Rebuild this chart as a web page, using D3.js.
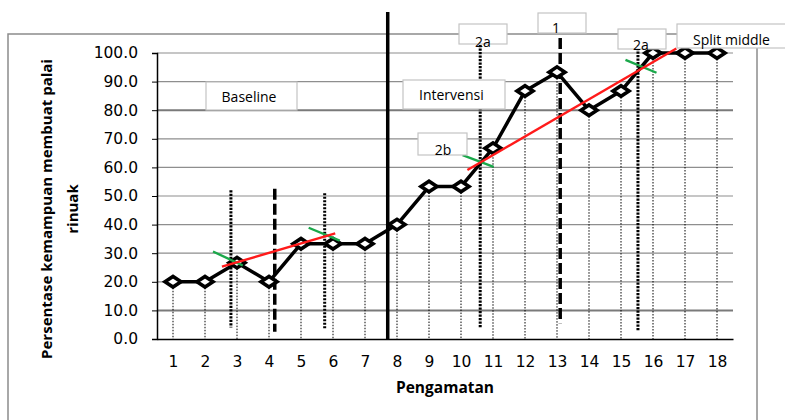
<!DOCTYPE html>
<html><head><meta charset="utf-8">
<script src="https://cdn.jsdelivr.net/npm/d3@7"></script>
<style>body{margin:0;background:#fff}svg{display:block}</style>
</head><body>
<script>
const categories = [1,2,3,4,5,6,7,8,9,10,11,12,13,14,15,16,17,18];
const values = [20,20,26.7,20,33.3,33.3,33.3,40,53.3,53.3,66.7,86.7,93.3,80,86.7,100,100,100];
const yTicks = [0,10,20,30,40,50,60,70,80,90,100];
const phaseLine = 7.71;
const dashedLines = [4.18, 13.1];
const dottedLines = [2.81, 5.74, 10.6, 15.53];
const trendBaseline = [[2.53,25.3],[6.07,36.9]];
const trendIntervensi = [[10.2,59.1],[16.73,101.6]];
const greenMarks = [
  [[2.25,30.6],[3.18,25.7]],
  [[5.24,38.9],[6.21,34.4]],
  [[10.05,64.3],[11.02,60.2]],
  [[15.14,97.6],[16.11,93.1]]
];

const W=785,H=420;
const svg=d3.select("body").append("svg").attr("width",W).attr("height",H);
const font="'Open Sans', sans-serif";
const tickFont="'DejaVu Sans', sans-serif";
const x=d3.scaleLinear().domain([0.5,18.5]).range([157,733]);
const y=d3.scaleLinear().domain([0,100]).range([339,53]);

// outer frame
svg.append("rect").attr("x",8).attr("y",34).attr("width",749).attr("height",400)
  .attr("fill","none").attr("stroke","#8c8c8c").attr("stroke-width",1.5);

// gridlines
svg.append("g").selectAll("line").data(yTicks.filter(d=>d>0)).join("line")
  .attr("x1",x(0.5)).attr("x2",x(18.5)).attr("y1",d=>y(d)).attr("y2",d=>y(d))
  .attr("stroke",d=>(d===80||d===10)?"#7a7a7a":"#8e8e8e")
  .attr("stroke-width",d=>(d===80||d===10)?2:1.2);

// axes
const yAxis=d3.axisLeft(y).tickValues(yTicks).tickFormat(d3.format(".1f")).tickSize(5).tickPadding(14);
const gy=svg.append("g").attr("transform",`translate(${x(0.5)},0)`).call(yAxis);
gy.select(".domain").attr("stroke","#000").attr("stroke-width",1.5);
gy.selectAll(".tick line").attr("stroke","#000");
gy.selectAll("text").attr("font-family",tickFont).attr("font-size",15.5).attr("fill","#000");

const xAxis=d3.axisBottom(x).tickValues(categories).tickFormat(d3.format("d")).tickSize(0).tickPadding(17);
const gx=svg.append("g").attr("transform",`translate(0,${y(0)})`).call(xAxis);
gx.select(".domain").attr("stroke","#000").attr("stroke-width",1.5);
gx.selectAll("text").attr("font-family",tickFont).attr("font-size",15.5).attr("fill","#000");

// drop lines
svg.append("g").selectAll("line").data(categories).join("line")
  .attr("x1",(d)=>x(d)).attr("x2",d=>x(d))
  .attr("y1",(d,i)=>y(values[i])).attr("y2",y(0))
  .attr("stroke","#000").attr("stroke-width",1).attr("stroke-dasharray","1.5,1.5");

// thick dotted lines
const dottedSpans=[[52,4],[51,3.5],[102,4],[101,3]];
svg.append("g").selectAll("line").data(dottedLines).join("line")
  .attr("x1",d=>x(d)).attr("x2",d=>x(d))
  .attr("y1",(d,i)=>i<2?y(dottedSpans[i][0]):[45,48][i-2])
  .attr("y2",(d,i)=>y(dottedSpans[i][1]))
  .attr("stroke","#000").attr("stroke-width",3).attr("stroke-dasharray","2.2,1.3");

// dashed lines
svg.append("g").selectAll("line").data(dashedLines).join("line")
  .attr("x1",d=>x(d)).attr("x2",d=>x(d))
  .attr("y1",(d,i)=>i===0?y(52.5):38).attr("y2",(d,i)=>i===0?y(2.5):y(5.5))
  .attr("stroke","#000").attr("stroke-width",3.5).attr("stroke-dasharray","11,4");

// phase change line
svg.append("line").attr("x1",x(phaseLine)).attr("x2",x(phaseLine))
  .attr("y1",12).attr("y2",y(0)).attr("stroke","#000").attr("stroke-width",3.5);

// data line
const line=d3.line().x((d,i)=>x(categories[i])).y(d=>y(d));
svg.append("path").datum(values).attr("d",line).attr("fill","none")
  .attr("stroke","#000").attr("stroke-width",3.5).attr("stroke-linejoin","round");

// markers (wide diamonds)
svg.append("g").selectAll("path").data(values).join("path")
  .attr("d","M-8,0L0,-5.3L8,0L0,5.3Z")
  .attr("transform",(d,i)=>`translate(${x(categories[i])},${y(d)})`)
  .attr("fill","#fff").attr("stroke","#000").attr("stroke-width",3.6).attr("stroke-linejoin","miter");

// green marks
svg.append("g").selectAll("line").data(greenMarks).join("line")
  .attr("x1",d=>x(d[0][0])).attr("y1",d=>y(d[0][1]))
  .attr("x2",d=>x(d[1][0])).attr("y2",d=>y(d[1][1]))
  .attr("stroke","#1aa84a").attr("stroke-width",2.4);

// red trend lines
svg.append("g").selectAll("line").data([trendBaseline,trendIntervensi]).join("line")
  .attr("x1",d=>x(d[0][0])).attr("y1",d=>y(d[0][1]))
  .attr("x2",d=>x(d[1][0])).attr("y2",d=>y(d[1][1]))
  .attr("stroke","#ff1a1a").attr("stroke-width",2.4);

// label boxes
const boxes=[
  {t:"Baseline",x0:206,y0:82,w:91,h:28,tx:249,ty:102,a:"middle"},
  {t:"Intervensi",x0:403,y0:80,w:102,h:29,tx:419,ty:100,a:"start"},
  {t:"2b",x0:418,y0:133,w:49,h:22,tx:443,ty:155,a:"middle"},
  {t:"2a",x0:459,y0:24,w:48,h:20,tx:483,ty:47,a:"middle"},
  {t:"1",x0:538,y0:13,w:48,h:20,tx:556,ty:33,a:"middle"},
  {t:"2a",x0:618,y0:29,w:48,h:20,tx:641,ty:50,a:"middle"},
  {t:"Split middle",x0:677,y0:24,w:115,h:24,tx:693,ty:45,a:"start"}
];
const bg=svg.append("g");
bg.selectAll("rect").data(boxes).join("rect")
  .attr("x",d=>d.x0).attr("y",d=>d.y0).attr("width",d=>d.w).attr("height",d=>d.h)
  .attr("fill","#fff").attr("stroke","#c4c4c4").attr("stroke-width",1.2);
bg.selectAll("text").data(boxes).join("text")
  .attr("x",d=>d.tx).attr("y",d=>d.ty).attr("text-anchor",d=>d.a)
  .attr("font-family",font).attr("font-size",14).attr("fill","#000").text(d=>d.t);

// axis titles
svg.append("text").attr("x",445).attr("y",393).attr("text-anchor","middle")
  .attr("font-family",font).attr("font-weight","bold").attr("font-size",15.5).text("Pengamatan");
const yt=svg.append("text").attr("transform","translate(52,209) rotate(-90)")
  .attr("text-anchor","middle").attr("font-family",font).attr("font-weight","bold").attr("font-size",15);
yt.append("tspan").attr("x",0).attr("dy",0).text("Persentase kemampuan membuat palai");
yt.append("tspan").attr("x",0).attr("dy",26).text("rinuak");
</script>
</body></html>
